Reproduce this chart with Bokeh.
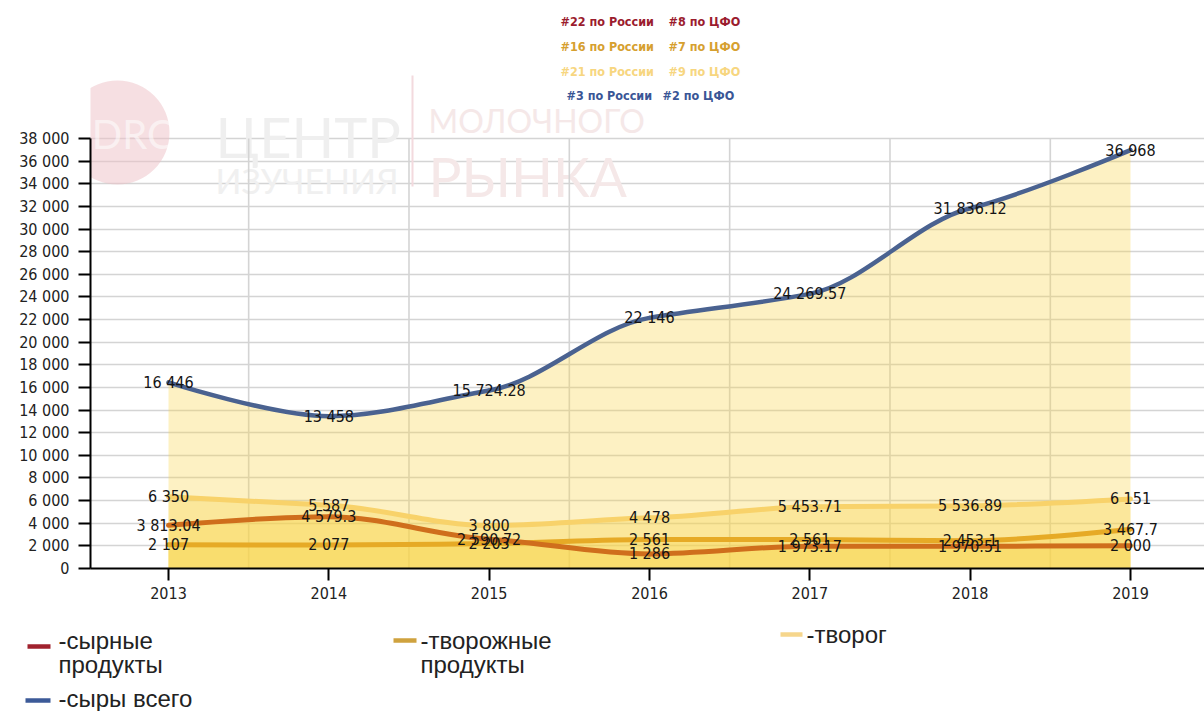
import numpy as np
from bokeh.plotting import figure
from bokeh.models import Range1d, FixedTicker, Label, BoxAnnotation, CustomJSTickFormatter
from bokeh.embed import file_html
from bokeh.resources import INLINE
from bokeh.core.properties import value

# ---------------- data ----------------
years = [2013, 2014, 2015, 2016, 2017, 2018, 2019]
syrnye_produkty = [3813.04, 4579.3, 2590.72, 1286, 1973.17, 1970.51, 2000]
tvorozhnye_produkty = [2107, 2077, 2203, 2561, 2561, 2453.1, 3467.7]
tvorog = [6350, 5587, 3800, 4478, 5453.71, 5536.89, 6151]
syry_vsego = [16446, 13458, 15724.28, 22146, 24269.57, 31836.12, 36968]

legend_line1 = ["-сырные", "-творожные", "-творог", "-сыры всего"]
legend_line2 = ["продукты", "продукты", "", ""]
rank_russia = ["#22 по России", "#16 по России", "#21 по России", "#3 по России"]
rank_cfo = ["#8 по ЦФО", "#7 по ЦФО", "#9 по ЦФО", "#2 по ЦФО"]
y_ticks = [0, 2000, 4000, 6000, 8000, 10000, 12000, 14000, 16000, 18000, 20000,
           22000, 24000, 26000, 28000, 30000, 32000, 34000, 36000, 38000]

# ---------------- styles ----------------
LEGEND_COLORS = ["#a0222e", "#cfa23e", "#f6d68c", "#3c5a98"]
RANK_COLORS = ["#9b1c2e", "#d6a030", "#f7d680", "#3a5696"]
LINE_COLORS = ["#cf6e1c", "#e6aa26", "#f8d26a", "#4a6290"]
LINE_WIDTHS = [5, 5, 5, 4.5]
FILL_COLOR = "#f9d548"
GRID_COLOR = "#d4d4d4"
FONT = "DejaVu Sans Condensed"


def fmt(v):
    if float(v).is_integer():
        s = f"{int(v):,}"
    else:
        s = f"{v:,.2f}".rstrip("0").rstrip(".")
    return s.replace(",", " ")


def spline(xs, ys, tension=0.55):
    """Cardinal-like smooth curve with flat tangents at extrema and ends."""
    n = len(xs)
    m = [0.0] * n
    for i in range(1, n - 1):
        d0 = ys[i] - ys[i - 1]
        d1 = ys[i + 1] - ys[i]
        if d0 * d1 <= 0:
            m[i] = 0.0
        else:
            m[i] = tension * (ys[i + 1] - ys[i - 1]) / (xs[i + 1] - xs[i - 1])
    segs = dict(x0=[], y0=[], x1=[], y1=[], cx0=[], cy0=[], cx1=[], cy1=[])
    for i in range(n - 1):
        h = xs[i + 1] - xs[i]
        segs["x0"].append(xs[i]); segs["y0"].append(ys[i])
        segs["x1"].append(xs[i + 1]); segs["y1"].append(ys[i + 1])
        if i == 0:
            segs["cx0"].append(xs[i]); segs["cy0"].append(ys[i])
        else:
            segs["cx0"].append(xs[i] + h / 3); segs["cy0"].append(ys[i] + m[i] * h / 3)
        if i + 1 == n - 1:
            segs["cx1"].append(xs[i + 1]); segs["cy1"].append(ys[i + 1])
        else:
            segs["cx1"].append(xs[i + 1] - h / 3); segs["cy1"].append(ys[i + 1] - m[i + 1] * h / 3)
    return segs


def sample(segs, steps=30):
    X, Y = [], []
    t = np.linspace(0, 1, steps)
    for k in range(len(segs["x0"])):
        p0 = np.array([segs["x0"][k], segs["y0"][k]])
        c0 = np.array([segs["cx0"][k], segs["cy0"][k]])
        c1 = np.array([segs["cx1"][k], segs["cy1"][k]])
        p1 = np.array([segs["x1"][k], segs["y1"][k]])
        for j, tt in enumerate(t):
            if k > 0 and j == 0:
                continue
            pt = ((1 - tt) ** 3) * p0 + 3 * ((1 - tt) ** 2) * tt * c0 + 3 * (1 - tt) * tt * tt * c1 + tt ** 3 * p1
            X.append(pt[0]); Y.append(pt[1])
    return X, Y


# ---------------- layout geometry (page pixels) ----------------
W = 1204
MAIN_H = 610
LEG_H = 101
FRAME_LEFT = 90          # page x of y-axis
FRAME_BOTTOM = 568       # page y of x-axis
TOP_TICK_Y = 138         # page y of the top tick value
PX_PER_YEAR = 160.33
FRAME_W = W - FRAME_LEFT
x_start = years[0] - (168 - FRAME_LEFT) / PX_PER_YEAR
x_end = x_start + FRAME_W / PX_PER_YEAR
y_top = y_ticks[-1] * FRAME_BOTTOM / (FRAME_BOTTOM - TOP_TICK_Y)

p = figure(width=W, height=MAIN_H, output_backend="svg", toolbar_location=None,
           x_range=Range1d(x_start, x_end), y_range=Range1d(0, y_top),
           min_border_left=FRAME_LEFT, min_border_right=0, min_border_top=0,
           min_border_bottom=MAIN_H - FRAME_BOTTOM)
p.outline_line_color = None
p.background_fill_color = "white"
p.border_fill_color = "white"

# axes
p.xaxis.ticker = FixedTicker(ticks=years)
p.yaxis.ticker = FixedTicker(ticks=y_ticks)
p.yaxis.bounds = (y_ticks[0], y_ticks[-1])
p.yaxis.formatter = CustomJSTickFormatter(code="return tick.toFixed(0).replace(/\\B(?=(\\d{3})+(?!\\d))/g, ' ');")
for ax in (p.xaxis[0], p.yaxis[0]):
    ax.axis_line_color = "black"
    ax.axis_line_width = 2
    ax.major_tick_line_color = "black"
    ax.major_tick_line_width = 2
    ax.major_tick_in = 0
    ax.major_tick_out = 12
    ax.minor_tick_line_color = None
    ax.major_label_text_font = FONT
    ax.major_label_text_font_size = "16px"
    ax.major_label_text_color = "#222222"
p.yaxis.major_label_standoff = 9
p.xaxis.major_label_standoff = 6

p.ygrid.ticker = FixedTicker(ticks=y_ticks)
p.ygrid.grid_line_color = GRID_COLOR
p.ygrid.grid_line_width = 1.6
p.xgrid.visible = False


# ---------------- page-position helpers for decorations ----------------
def sxp(X):
    return X - FRAME_LEFT


def syp(Y):
    return FRAME_BOTTOM - Y


# watermark (under the data)
p.add_layout(BoxAnnotation(left=sxp(65), right=sxp(169), top=syp(80), bottom=syp(184),
                           left_units="screen", right_units="screen", top_units="screen",
                           bottom_units="screen", fill_color="#eec0c6", fill_alpha=0.5,
                           line_color=None, border_radius=52, level="underlay"))
p.add_layout(Label(x=sxp(117), y=syp(133), x_units="screen", y_units="screen", text="DDRC",
                   text_align="center", text_baseline="middle", text_font="Lato",
                   text_font_size="40px", text_color="white", text_alpha=0.55))
p.add_layout(BoxAnnotation(left=sxp(411), right=sxp(413), top=syp(75), bottom=syp(186),
                           left_units="screen", right_units="screen", top_units="screen",
                           bottom_units="screen", fill_color="#f3dade", fill_alpha=1,
                           line_color=None, level="underlay"))
wm = [("ЦЕНТР", 215, 136, "56px", "#efefef"),
      ("ИЗУЧЕНИЯ", 215, 180, "34px", "#f0f0f0"),
      ("МОЛОЧНОГО", 428, 120, "32px", "#f5e8e8"),
      ("РЫНКА", 428, 175, "55px", "#f5e8e8")]
for t, X, Y, fs, c in wm:
    p.add_layout(Label(x=sxp(X), y=syp(Y), x_units="screen", y_units="screen", text=t,
                       text_align="left", text_baseline="alphabetic", text_font="Lato",
                       text_font_size=fs, text_color=c, level="underlay"))

# vertical grid lines between the years (only within the value span)
vg_x = [y + 0.5 for y in years[:-1]]
p.segment(x0=vg_x, x1=vg_x, y0=[y_ticks[0]] * len(vg_x), y1=[y_ticks[-1]] * len(vg_x),
          line_color=GRID_COLOR, line_width=1.6)

series = [syrnye_produkty, tvorozhnye_produkty, tvorog, syry_vsego]
segsets = [spline(years, s) for s in series]

# fills
for segs in segsets:
    sx, sy = sample(segs)
    p.varea(x=sx, y1=[0] * len(sx), y2=sy, fill_color=FILL_COLOR, fill_alpha=0.33)

# lines (draw order)
for idx in [2, 1, 0, 3]:
    segs = segsets[idx]
    p.bezier(line_color=LINE_COLORS[idx], line_width=LINE_WIDTHS[idx], line_cap="round", **segs)

# data labels
for s in series:
    p.text(x=years, y=s, text=[fmt(v) for v in s], text_align="center",
           text_baseline="middle", text_font=value(FONT), text_font_size="16px",
           text_color="#151515")

# rank labels
rank_rows_y = [21, 46, 71, 95]
rank_x1 = [560, 560, 560, 566]
rank_x2 = [668, 668, 668, 662]
for i in range(4):
    p.add_layout(Label(x=sxp(rank_x1[i]), y=syp(rank_rows_y[i]), x_units="screen",
                       y_units="screen", text=rank_russia[i], text_align="left",
                       text_baseline="middle", text_font=FONT, text_font_style="bold",
                       text_font_size="12.5px", text_color=RANK_COLORS[i]))
    p.add_layout(Label(x=sxp(rank_x2[i]), y=syp(rank_rows_y[i]), x_units="screen",
                       y_units="screen", text=rank_cfo[i], text_align="left",
                       text_baseline="middle", text_font=FONT, text_font_style="bold",
                       text_font_size="12.5px", text_color=RANK_COLORS[i]))

# ---------------- legend figure (separate root, x and y in page pixels) ----------------
lf = figure(width=W, height=LEG_H, output_backend="svg", toolbar_location=None,
            x_range=Range1d(0, W), y_range=Range1d(MAIN_H + LEG_H, MAIN_H),
            min_border_left=0, min_border_right=0, min_border_top=0,
            min_border_bottom=0, x_axis_type=None, y_axis_type=None)
lf.outline_line_color = None
lf.grid.visible = False
lf.border_fill_color = "white"
lf.background_fill_color = "white"

sw_x0 = [27, 393, 780, 25]
sw_x1 = [50, 416, 802, 50]
sw_y = [646, 640, 634, 700]
tx = [58, 420, 806, 58]
ty1 = [640, 640, 634, 698]
ty2 = [664, 664, 664, 664]
LEG_FONT = "Liberation Sans"
for i in range(4):
    lf.add_layout(BoxAnnotation(left=sw_x0[i], right=sw_x1[i], top=sw_y[i] - 2.2,
                                bottom=sw_y[i] + 2.2, fill_color=LEGEND_COLORS[i],
                                fill_alpha=1, line_color=None))
    lf.add_layout(Label(x=tx[i], y=ty1[i], text=legend_line1[i], text_align="left",
                        text_baseline="middle", text_font=LEG_FONT, text_font_size="24px",
                        text_color="#222222"))
    if legend_line2[i]:
        lf.add_layout(Label(x=tx[i], y=ty2[i], text=legend_line2[i], text_align="left",
                            text_baseline="middle", text_font=LEG_FONT,
                            text_font_size="24px", text_color="#222222"))

open("out.html", "w").write(file_html([p, lf], INLINE))
